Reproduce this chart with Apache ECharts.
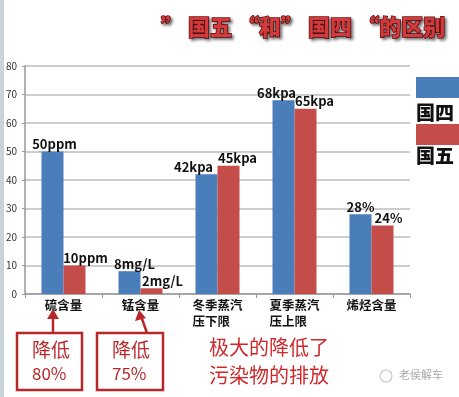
<!DOCTYPE html>
<html>
<head>
<meta charset="utf-8">
<style>
  html, body { margin: 0; padding: 0; background: #fff; }
  #chart { width: 459px; height: 397px; }
</style>
<script src="https://cdn.jsdelivr.net/npm/echarts@6/dist/echarts.min.js"></script>
</head>
<body>
<div id="chart"></div>
<script>
// 数据
var categories = ['硫含量', '锰含量', '冬季蒸汽\n压下限　', '夏季蒸汽\n压上限　', '烯烃含量'];
var guosi = [50, 8, 42, 68, 28];
var guowu = [10, 2, 45, 65, 24];
var units = ['ppm', 'mg/L', 'kpa', 'kpa', '%'];
var yTicks = [0, 10, 20, 30, 40, 50, 60, 70, 80];

// 标签偏移（仅样式）
var guosiOffsets = [[2, 0], [5, 0], [-13, 0], [-7, 0], [0, 0]];
var guowuOffsets = [[11, 0], [11, 0], [9, 0], [9, 0], [6, 0]];

var FONT = '"Noto Sans CJK SC", "Noto Sans", sans-serif';
var RED = '#b8282a';

function withLabels(values, offsets) {
    return values.map(function (v, i) {
        return {
            value: v,
            label: { offset: offsets[i], formatter: v + units[i] }
        };
    });
}

var myChart = echarts.init(document.getElementById('chart'));

var option = {
    animation: false,
    backgroundColor: '#fff',
    title: {
        text: '” 国五 “和” 国四 “的区别',
        left: 156,
        top: 11,
        textStyle: {
            fontFamily: FONT,
            fontSize: 22,
            fontWeight: 900,
            color: '#d23a3c',
            textBorderColor: '#6e1012',
            textBorderWidth: 1.5,
            textShadowColor: 'rgba(0,0,0,0.45)',
            textShadowBlur: 3,
            textShadowOffsetX: 2,
            textShadowOffsetY: 2
        }
    },
    legend: { show: false },
    grid: { left: 25, right: 49, top: 66, bottom: 103 },
    xAxis: {
        type: 'category',
        data: categories,
        axisLine: { lineStyle: { color: '#999', width: 1.5 } },
        axisTick: { show: true, length: 4, lineStyle: { color: '#999' } },
        axisLabel: {
            interval: 0,
            margin: 3,
            fontFamily: FONT,
            fontSize: 12.5,
            fontWeight: 'bold',
            color: '#111',
            lineHeight: 16
        }
    },
    yAxis: {
        type: 'value',
        min: 0,
        max: 80,
        interval: 10,
        axisLine: { show: true, lineStyle: { color: '#999', width: 1.5 } },
        axisTick: { show: true, length: 3, lineStyle: { color: '#999' } },
        axisLabel: {
            margin: 8,
            fontFamily: FONT,
            fontSize: 10,
            color: '#333',
            formatter: function (v) { return yTicks.indexOf(v) >= 0 ? String(v) : ''; }
        },
        splitLine: { lineStyle: { color: '#bdbdbd', width: 1.5 } }
    },
    series: [
        {
            name: '国四',
            type: 'bar',
            barWidth: 22,
            barGap: '0%',
            itemStyle: { color: '#4a7ebb' },
            label: {
                show: true,
                position: 'top',
                distance: 1,
                fontFamily: FONT,
                fontSize: 13,
                fontWeight: 'bold',
                color: '#111'
            },
            data: withLabels(guosi, guosiOffsets)
        },
        {
            name: '国五',
            type: 'bar',
            barWidth: 22,
            itemStyle: { color: '#c44d4a' },
            label: {
                show: true,
                position: 'top',
                distance: 1,
                fontFamily: FONT,
                fontSize: 13,
                fontWeight: 'bold',
                color: '#111'
            },
            data: withLabels(guowu, guowuOffsets)
        }
    ],
    graphic: [
        // 左侧边条
        { type: 'rect', shape: { x: 0, y: 0, width: 4, height: 397 }, style: { fill: '#c9d3dc' } },
        // 图例
        { type: 'rect', shape: { x: 416, y: 77, width: 43, height: 21 }, style: { fill: '#4a7ebb' } },
        { type: 'text', left: 416, top: 103, style: { text: '国四', font: '900 19px ' + FONT, fill: '#111' } },
        { type: 'rect', shape: { x: 416, y: 124, width: 43, height: 21 }, style: { fill: '#c44d4a' } },
        { type: 'text', left: 416, top: 146, style: { text: '国五', font: '900 19px ' + FONT, fill: '#111' } },
        // 箭头 1
        { type: 'line', shape: { x1: 53, y1: 333, x2: 53, y2: 315 }, style: { stroke: RED, lineWidth: 2.5 } },
        { type: 'polygon', shape: { points: [[53, 309], [47, 319], [59, 319]] }, style: { fill: RED } },
        // 箭头 2
        { type: 'line', shape: { x1: 147, y1: 333, x2: 141, y2: 316 }, style: { stroke: RED, lineWidth: 2.5 } },
        { type: 'polygon', shape: { points: [[139, 310], [135, 321], [146, 318]] }, style: { fill: RED } },
        // 方框 1
        { type: 'rect', shape: { x: 17, y: 333, width: 65, height: 57 }, style: { fill: 'none', stroke: RED, lineWidth: 2.5 } },
        { type: 'text', left: 32, top: 340, style: { text: '降低', font: '19px ' + FONT, fill: RED } },
        { type: 'text', left: 32, top: 365, style: { text: '80%', font: '17px ' + FONT, fill: RED } },
        // 方框 2
        { type: 'rect', shape: { x: 97, y: 333, width: 66, height: 57 }, style: { fill: 'none', stroke: RED, lineWidth: 2.5 } },
        { type: 'text', left: 112, top: 340, style: { text: '降低', font: '19px ' + FONT, fill: RED } },
        { type: 'text', left: 112, top: 365, style: { text: '75%', font: '17px ' + FONT, fill: RED } },
        // 说明文字
        { type: 'text', left: 209, top: 333, style: { text: '极大的降低了\n污染物的排放', font: '20px ' + FONT, fill: '#d0282a', lineHeight: 28 } },
        // 水印
        { type: 'circle', shape: { cx: 386, cy: 376, r: 6 }, style: { fill: 'none', stroke: '#c8c8c8', lineWidth: 1.2 } },
        { type: 'text', left: 399, top: 369, style: { text: '老侯解车', font: '11px ' + FONT, fill: '#aaa' } }
    ]
};

myChart.setOption(option);
</script>
</body>
</html>
